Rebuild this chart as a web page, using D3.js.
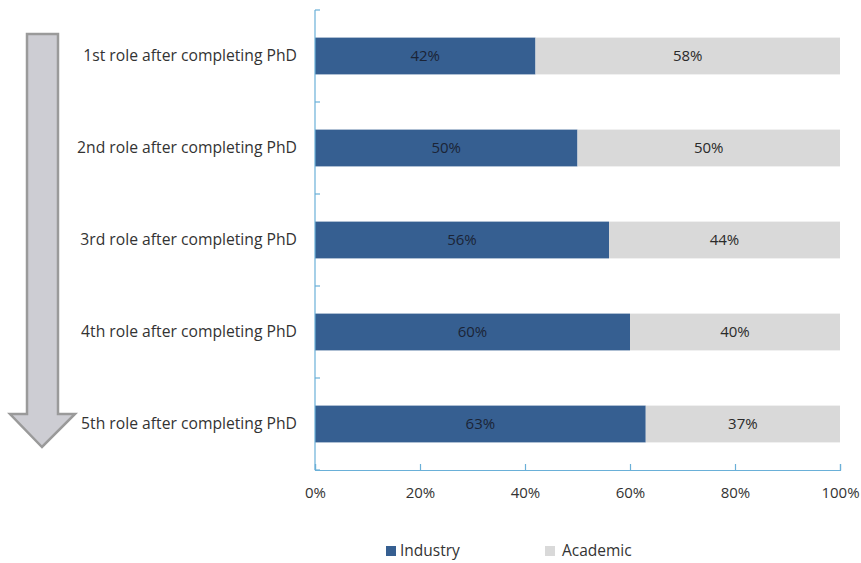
<!DOCTYPE html>
<html><head><meta charset="utf-8">
<script src="https://cdn.jsdelivr.net/npm/d3@7"></script>
<style>body{margin:0;background:#fff}svg{display:block}text{font-family:"Open Sans",sans-serif}</style>
</head><body><svg id="c" width="861" height="563"></svg>
<script>
const categories = ["1st role after completing PhD","2nd role after completing PhD","3rd role after completing PhD","4th role after completing PhD","5th role after completing PhD"];
const industry = [42,50,56,60,63];
const academic = [58,50,44,40,37];
const seriesNames = ["Industry","Academic"];
const xTicks = [0,20,40,60,80,100];

const svg = d3.select("#c");
const mLeft = 315, mRight = 840, mTop = 10, mBottom = 470;
const x = d3.scaleLinear().domain([0,100]).range([mLeft,mRight]);
const y = d3.scaleBand().domain(categories).range([mTop,mBottom]).paddingInner(0.6).paddingOuter(0.3);
const colors = {Industry:"#365f91", Academic:"#d9d9d9"};
const axisColor = "#6ab0d8";

// arrow
svg.append("path")
  .attr("d","M27,34 L58,34 L58,414 L75,414 L42,447 L10,414 L27,414 Z")
  .attr("fill","#cdcdd3").attr("stroke","#9a9a9a").attr("stroke-width",2.5).attr("stroke-linejoin","miter");

const rows = categories.map((c,i)=>({c, ind:industry[i], aca:academic[i]}));
const g = svg.append("g");
g.selectAll("rect.ind").data(rows).join("rect").attr("class","ind")
  .attr("x",x(0)).attr("y",d=>y(d.c)).attr("width",d=>x(d.ind)-x(0)).attr("height",y.bandwidth())
  .attr("fill",colors.Industry);
g.selectAll("rect.aca").data(rows).join("rect").attr("class","aca")
  .attr("x",d=>x(d.ind)).attr("y",d=>y(d.c)).attr("width",d=>x(d.ind+d.aca)-x(d.ind)).attr("height",y.bandwidth())
  .attr("fill",colors.Academic);
g.selectAll("text.li").data(rows).join("text").attr("class","li")
  .attr("x",d=>x(d.ind/2)).attr("y",d=>y(d.c)+y.bandwidth()/2).attr("dy","0.35em")
  .attr("text-anchor","middle").attr("font-size",15).attr("fill","#1b2436").text(d=>d.ind+"%");
g.selectAll("text.la").data(rows).join("text").attr("class","la")
  .attr("x",d=>x(d.ind+d.aca/2)).attr("y",d=>y(d.c)+y.bandwidth()/2).attr("dy","0.35em")
  .attr("text-anchor","middle").attr("font-size",15).attr("fill","#2a2a2a").text(d=>d.aca+"%");

// y axis
const yb = d3.scaleBand().domain(categories).range([mTop,mBottom]);
svg.append("line").attr("x1",mLeft).attr("x2",mLeft).attr("y1",mTop).attr("y2",mBottom).attr("stroke",axisColor).attr("stroke-width",1.2);
const yTickPos = categories.map(c=>yb(c)).concat([mBottom]);
svg.selectAll("line.yt").data(yTickPos).join("line").attr("class","yt")
  .attr("x1",mLeft).attr("x2",mLeft+5).attr("y1",d=>d).attr("y2",d=>d).attr("stroke",axisColor).attr("stroke-width",1.2);
svg.selectAll("text.yl").data(categories).join("text").attr("class","yl")
  .attr("x",297).attr("y",c=>yb(c)+yb.bandwidth()/2).attr("dy","0.35em").attr("text-anchor","end")
  .attr("font-size",15.7).attr("fill","#333").text(c=>c);

// x axis
const xa = svg.append("g").attr("transform",`translate(0,${mBottom})`)
  .call(d3.axisBottom(x).tickValues(xTicks).tickSize(-6).tickFormat(d=>d+"%").tickPadding(17));
xa.select(".domain").attr("stroke",axisColor).attr("stroke-width",1.2);
xa.selectAll(".tick line").attr("stroke",axisColor).attr("stroke-width",1.2);
xa.selectAll(".tick text").attr("font-size",15).attr("fill","#333").attr("font-family","'Open Sans',sans-serif");

// legend
const legX = [386, 545];
const leg = svg.selectAll("g.leg").data(seriesNames).join("g").attr("class","leg")
  .attr("transform",(d,i)=>`translate(${legX[i]},551)`);
leg.append("rect").attr("x",0).attr("y",-5).attr("width",10).attr("height",10).attr("fill",d=>colors[d]);
leg.append("text").attr("x",(d,i)=>i===0?14:17).attr("y",0).attr("dy","0.35em").attr("font-size",15.5).attr("fill","#333").text(d=>d);
</script></body></html>
